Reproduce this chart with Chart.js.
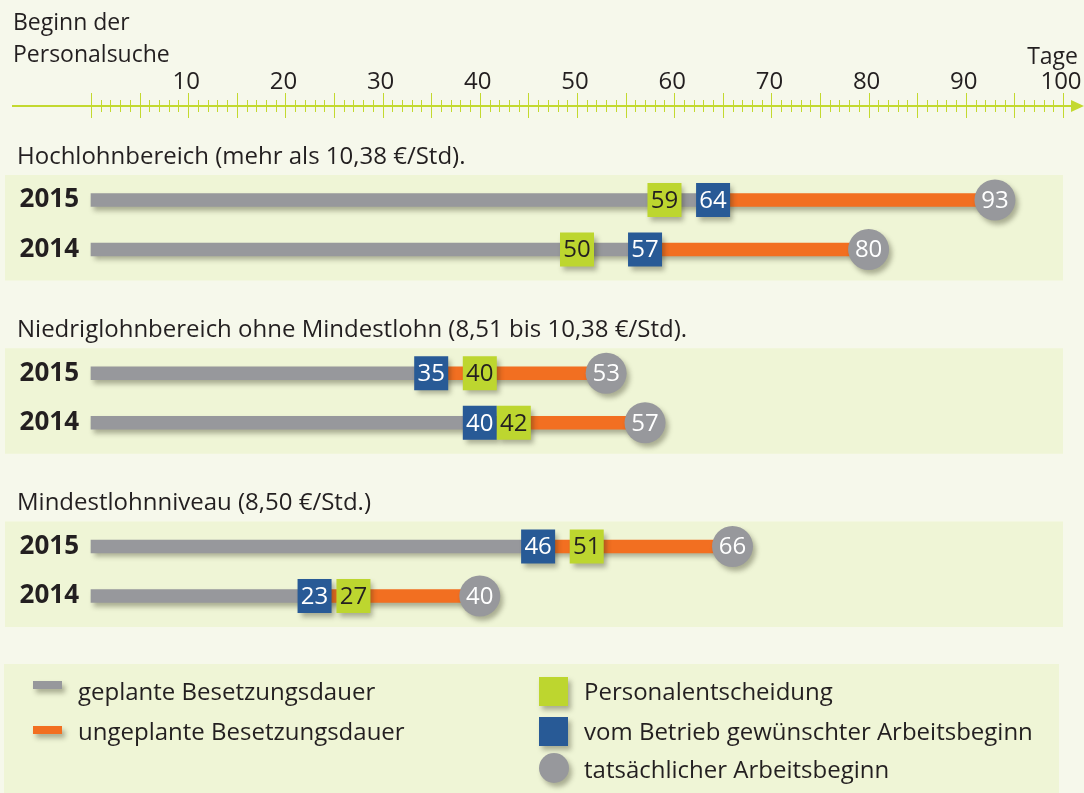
<!DOCTYPE html>
<html lang="de">
<head>
<meta charset="utf-8">
<title>Besetzungsdauer</title>
<script src="https://cdn.jsdelivr.net/npm/chart.js@4.4.1/dist/chart.umd.min.js"></script>
<style>
  html, body { margin: 0; padding: 0; background: #f6f8eb; }
  #wrap { width: 1084px; height: 793px; }
</style>
</head>
<body>
<div id="wrap"><canvas id="chart" width="1084" height="793"></canvas></div>
<script>
// Data
const groupTitles = [
    'Hochlohnbereich (mehr als 10,38 €/Std).',
    'Niedriglohnbereich ohne Mindestlohn (8,51 bis 10,38 €/Std).',
    'Mindestlohnniveau (8,50 €/Std.)'
];
const years = ['2015', '2014'];
// per group: [2015, 2014]
const personalentscheidung = [[59, 50], [40, 42], [51, 27]];
const gewuenschterBeginn = [[64, 57], [35, 40], [46, 23]];
const tatsaechlicherBeginn = [[93, 80], [53, 57], [66, 40]];
const tickLabels = [10, 20, 30, 40, 50, 60, 70, 80, 90, 100];
const legendBars = ['geplante Besetzungsdauer', 'ungeplante Besetzungsdauer'];
const legendMarks = ['Personalentscheidung', 'vom Betrieb gewünschter Arbeitsbeginn', 'tatsächlicher Arbeitsbeginn'];

const FONT = '"Open Sans", "Liberation Sans", sans-serif';
const TEXT = '#231f20';
const GRAY = '#97989c';
const ORANGE = '#f26f21';
const GREEN = '#bdd62f';
const BLUE = '#285a96';
const LIME = '#c3d92f';
const PANEL = '#eff5d6';
const SQ = 34;

// rows: 2 slots between years, 5 slots between groups
function slotOf(g, j) {
    return g * 7 + j * 2;
}

const slotCount = slotOf(groupTitles.length - 1, years.length - 1) + 1;
const labels = new Array(slotCount).fill('');
const planned = new Array(slotCount).fill(null);
const unplanned = new Array(slotCount).fill(null);
groupTitles.forEach((t, g) => {
    years.forEach((yr, j) => {
        const s = slotOf(g, j);
        labels[s] = yr;
        planned[s] = [0, gewuenschterBeginn[g][j]];
        unplanned[s] = [gewuenschterBeginn[g][j], tatsaechlicherBeginn[g][j]];
    });
});

function font(size, weight) {
    return (weight || 'normal') + ' ' + size + 'px ' + FONT;
}

function setShadow(ctx) {
    ctx.shadowColor = 'rgba(40, 40, 20, 0.35)';
    ctx.shadowBlur = 5;
    ctx.shadowOffsetX = 3;
    ctx.shadowOffsetY = 4;
}

function clearShadow(ctx) {
    ctx.shadowColor = 'rgba(0,0,0,0)';
    ctx.shadowBlur = 0;
    ctx.shadowOffsetX = 0;
    ctx.shadowOffsetY = 0;
}

// panels, titles, top axis, legend
const backdrop = {
    id: 'backdrop',
    beforeDraw(chart) {
        const ctx = chart.ctx;
        const x = chart.scales.x;
        const y = chart.scales.y;
        ctx.save();
        ctx.textBaseline = 'middle';

        groupTitles.forEach((title, g) => {
            const top = y.getPixelForValue(slotOf(g, 0)) - 25;
            const bottom = y.getPixelForValue(slotOf(g, years.length - 1)) + 31;
            ctx.fillStyle = PANEL;
            ctx.fillRect(5, top, x.getPixelForValue(100) - 5, bottom - top);
            ctx.fillStyle = TEXT;
            ctx.font = font(24);
            ctx.textAlign = 'left';
            ctx.fillText(title, 17, top - 18);
        });

        // top axis
        const axisY = 106;
        ctx.strokeStyle = LIME;
        ctx.fillStyle = LIME;
        ctx.lineWidth = 2;
        ctx.beginPath();
        ctx.moveTo(12, axisY);
        ctx.lineTo(1074, axisY);
        ctx.stroke();
        ctx.beginPath();
        ctx.moveTo(1071, axisY - 6);
        ctx.lineTo(1084, axisY);
        ctx.lineTo(1071, axisY + 6);
        ctx.closePath();
        ctx.fill();
        ctx.lineWidth = 1;
        for (let v = 0; v <= 100; v++) {
            const px = Math.round(x.getPixelForValue(v)) + 0.5;
            const long = v % 5 === 0;
            ctx.beginPath();
            ctx.moveTo(px, long ? axisY - 13 : axisY - 6);
            ctx.lineTo(px, long ? axisY + 12 : axisY + 6);
            ctx.stroke();
        }

        ctx.fillStyle = TEXT;
        ctx.font = font(24);
        ctx.textAlign = 'center';
        tickLabels.forEach(v => {
            ctx.fillText(String(v), x.getPixelForValue(v) - 2, 82);
        });
        ctx.font = font(23);
        ctx.textAlign = 'left';
        ctx.fillText('Beginn der', 13, 23);
        ctx.fillText('Personalsuche', 13, 55);
        ctx.textAlign = 'right';
        ctx.fillText('Tage', 1078, 57);

        // legend
        ctx.fillStyle = PANEL;
        ctx.fillRect(4, 664, 1055, 129);
        const rowsY = [693, 733, 771];
        ctx.save();
        setShadow(ctx);
        ctx.fillStyle = GRAY;
        ctx.fillRect(33, rowsY[0] - 12, 29, 8);
        ctx.fillStyle = ORANGE;
        ctx.fillRect(33, rowsY[1] - 7, 29, 8);
        ctx.fillStyle = GREEN;
        ctx.fillRect(539, rowsY[0] - 16, 29, 29);
        ctx.fillStyle = BLUE;
        ctx.fillRect(539, rowsY[1] - 16, 29, 29);
        ctx.fillStyle = GRAY;
        ctx.beginPath();
        ctx.ellipse(554, rowsY[2] - 3, 15, 15, 0, 0, Math.PI * 2);
        ctx.fill();
        ctx.restore();

        ctx.fillStyle = TEXT;
        ctx.font = font(24);
        ctx.textAlign = 'left';
        legendBars.forEach((t, i) => ctx.fillText(t, 78, rowsY[i]));
        legendMarks.forEach((t, i) => ctx.fillText(t, 584, rowsY[i]));
        ctx.restore();
    }
};

const barShadow = {
    id: 'barShadow',
    beforeDatasetsDraw(chart) {
        chart.ctx.save();
        setShadow(chart.ctx);
    },
    afterDatasetsDraw(chart) {
        chart.ctx.restore();
    }
};

// squares and circles on the bars
const markers = {
    id: 'markers',
    afterDatasetsDraw(chart) {
        const ctx = chart.ctx;
        const x = chart.scales.x;
        const y = chart.scales.y;
        ctx.save();
        ctx.textAlign = 'center';
        ctx.textBaseline = 'middle';
        groupTitles.forEach((t, g) => {
            years.forEach((yr, j) => {
                const cy = y.getPixelForValue(slotOf(g, j));
                const marks = [
                    { v: personalentscheidung[g][j], fill: GREEN, color: TEXT },
                    { v: gewuenschterBeginn[g][j], fill: BLUE, color: '#ffffff' }
                ].map(m => Object.assign(m, { px: x.getPixelForValue(m.v) }))
                 .sort((a, b) => a.px - b.px);
                if (marks[1].px - marks[0].px < SQ) {
                    marks[1].px = marks[0].px + SQ;
                }

                const av = tatsaechlicherBeginn[g][j];
                const cx = x.getPixelForValue(av);
                setShadow(ctx);
                ctx.fillStyle = GRAY;
                ctx.beginPath();
                ctx.arc(cx, cy, 20.5, 0, Math.PI * 2);
                ctx.fill();
                clearShadow(ctx);
                ctx.fillStyle = '#ffffff';
                ctx.font = font(24);
                ctx.fillText(String(av), cx, cy + 1);

                marks.forEach(m => {
                    setShadow(ctx);
                    ctx.fillStyle = m.fill;
                    ctx.fillRect(m.px - SQ / 2, cy - SQ / 2, SQ, SQ);
                    clearShadow(ctx);
                    ctx.fillStyle = m.color;
                    ctx.fillText(String(m.v), m.px, cy + 1);
                });
            });
        });
        ctx.restore();
    }
};

const chart = new Chart(document.getElementById('chart'), {
    type: 'bar',
    data: {
        labels: labels,
        datasets: [
            { label: legendBars[0], data: planned, backgroundColor: GRAY, barThickness: 13, grouped: false, clip: false },
            { label: legendBars[1], data: unplanned, backgroundColor: ORANGE, barThickness: 13, grouped: false, clip: false }
        ]
    },
    options: {
        indexAxis: 'y',
        responsive: false,
        animation: false,
        layout: { padding: { left: 1, right: 21, top: 200, bottom: 197 } },
        scales: {
            x: { type: 'linear', min: 0, max: 100, display: false },
            y: {
                type: 'category',
                offset: false,
                grid: { display: false, drawTicks: false },
                border: { display: false },
                ticks: {
                    autoSkip: false,
                    padding: 12,
                    color: TEXT,
                    font: { family: FONT, size: 26, weight: 'bold' }
                },
                afterFit: function(scale) {
                    scale.width = 90;
                }
            }
        },
        plugins: {
            legend: { display: false },
            tooltip: { enabled: false }
        }
    },
    plugins: [backdrop, barShadow, markers]
});
</script>
</body>
</html>
